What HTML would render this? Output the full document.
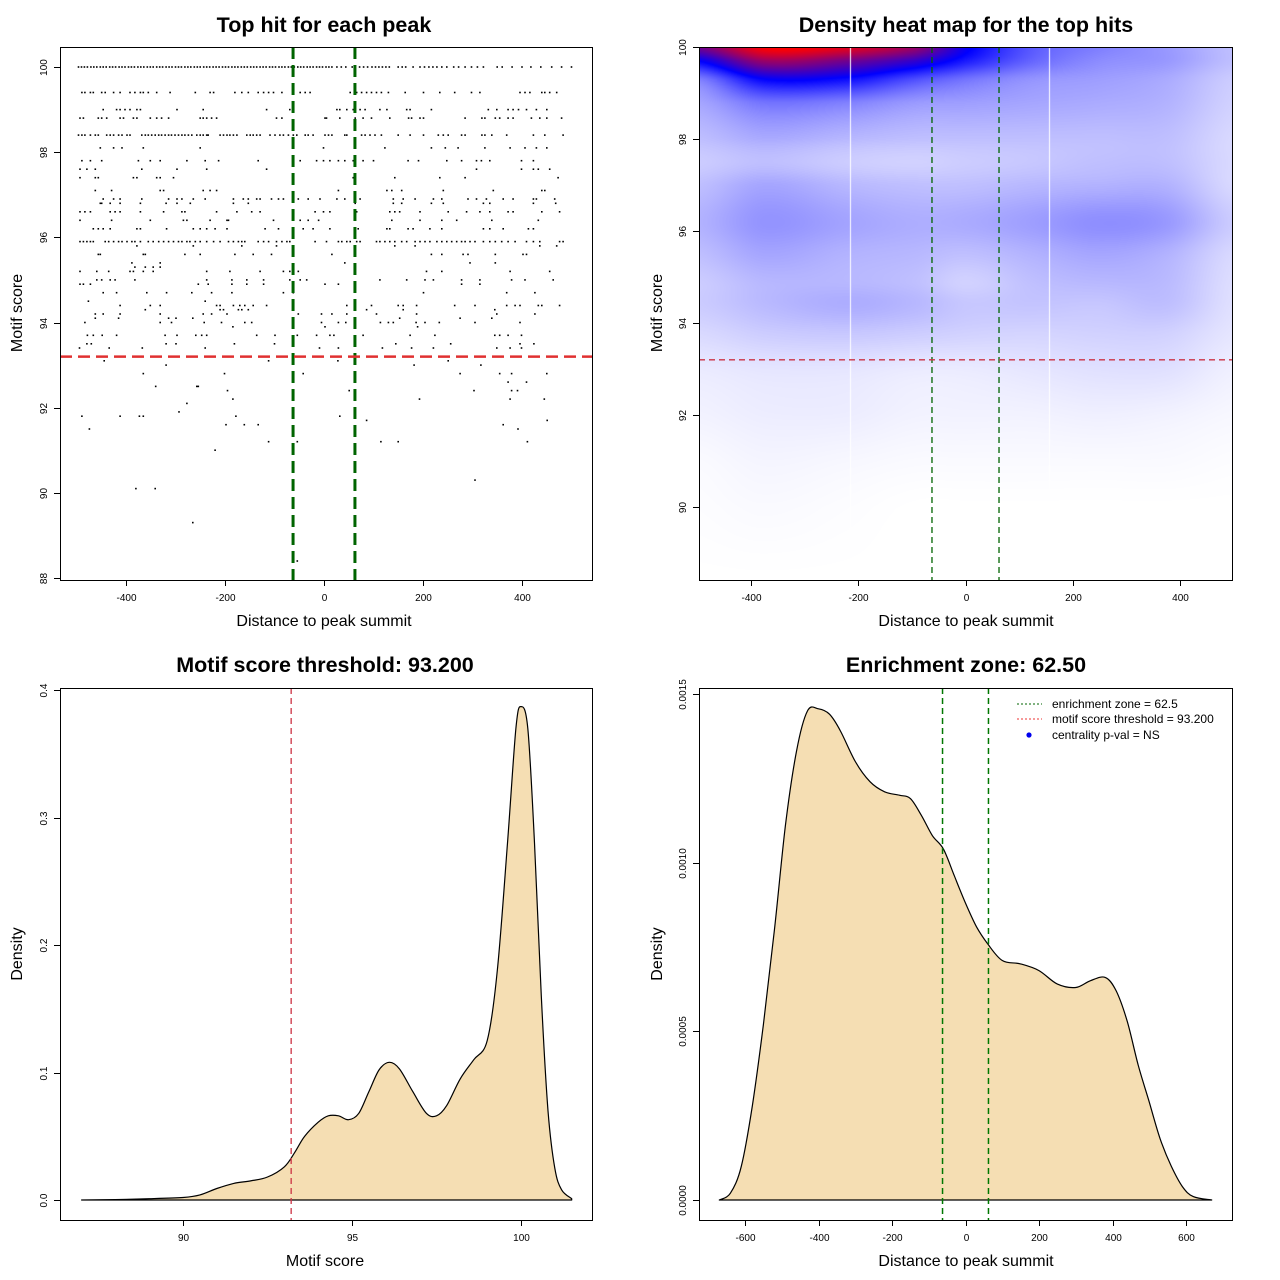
<!DOCTYPE html>
<html><head><meta charset="utf-8">
<style>
html,body{margin:0;padding:0;background:#fff;}
#wrap{position:relative;width:1280px;height:1280px;overflow:hidden;}
#heat{position:absolute;left:699px;top:47px;}
svg{position:absolute;left:0;top:0;}
text{font-family:"Liberation Sans",sans-serif;}
</style></head>
<body>
<div id="wrap">
<canvas id="heat" width="533" height="533"></canvas>
<svg id="svg" width="1280" height="1280" xmlns="http://www.w3.org/2000/svg"></svg>
</div>
<script>
// ---------- DATA ----------
const enrichZone = 62.5;
const scoreThreshold = 93.2;
const xTicksDist = [-400,-200,0,200,400];
const yTicksScatter = [88,90,92,94,96,98,100];
const yTicksHeat = [90,92,94,96,98,100];
const xTicksScore = [90,95,100];
const yTicksScoreDens = [0.0,0.1,0.2,0.3,0.4];
const yTicksScoreLabels = ["0.0","0.1","0.2","0.3","0.4"];
const xTicksDistDens = [-600,-400,-200,0,200,400,600];
const yTicksDistDens = [0,0.0005,0.0010,0.0015];
const yTicksDistLabels = ["0.0000","0.0005","0.0010","0.0015"];

const scatterScores = [100,99.4,99.0,98.8,98.4,98.1,97.8,97.6,97.4,97.1,96.9,96.8,96.6,96.4,96.2,95.9,95.8,95.6,95.4,95.3,95.2,95.0,94.9,94.7,94.5,94.4,94.3,94.2,94.1,94.0,93.9,93.7,93.5,93.4,93.1,93.0,92.8,92.6,92.5,92.4,92.2,92.1,91.9,91.8,91.7,91.6,91.5,91.2,91.0,90.3,90.1,89.3,88.4];
const scatterX = [
[-496,-490,-484,-478,-471,-465,-459,-452,-446,-440,-433,-427,-421,-414,-408,-402,-395,-389,-383,-376,-370,-364,-357,-351,-345,-338,-332,-326,-319,-313,-307,-300,-294,-288,-281,-275,-269,-262,-256,-250,-243,-237,-231,-224,-218,-212,-205,-199,-193,-186,-180,-174,-167,-161,-155,-148,-142,-136,-129,-123,-117,-110,-104,-98,-91,-85,-79,-72,-66,-60,-53,-47,-41,-34,-28,-22,-15,-9,-3,4,10,16,26,35,44,57,63,72,80,88,97,104,111,118,125,132,150,158,165,180,194,203,212,220,228,238,248,262,272,285,298,310,322,350,360,380,400,418,438,460,480,500],
[-489,-483,-472,-466,-449,-442,-425,-412,-392,-382,-371,-365,-355,-338,-311,-260,-230,-223,-180,-166,-153,-133,-122,-112,-102,-85,-62,-48,-38,-28,53,66,76,86,96,106,116,130,164,201,234,264,298,315,396,406,416,440,446,456,470],
[-446,-419,-412,-402,-392,-378,-371,-297,-244,-116,-69,26,32,46,59,73,83,113,127,167,174,217,332,349,372,382,393,409,429,450],
[-493,-486,-456,-449,-439,-412,-405,-385,-378,-351,-338,-328,-314,-250,-244,-237,-227,-217,-96,-85,2,5,32,63,79,96,133,171,177,194,201,285,319,325,346,355,372,382,419,436,450,480],
[-496,-489,-483,-472,-462,-456,-439,-432,-425,-415,-408,-398,-392,-368,-361,-355,-348,-341,-334,-328,-321,-314,-308,-301,-294,-287,-281,-274,-267,-257,-250,-244,-237,-234,-210,-203,-196,-190,-183,-176,-156,-149,-143,-136,-129,-109,-99,-89,-82,-72,-62,-55,-38,-32,-22,2,9,16,42,46,76,83,93,103,116,150,174,201,231,241,251,278,285,319,325,339,369,423,446,483],
[-452,-425,-408,-365,-250,-1,123,217,245,271,325,376,406,429,450],
[-489,-472,-449,-375,-351,-331,-277,-240,-213,-133,-48,-15,-1,12,29,42,59,79,100,170,191,248,278,308,318,335,399,423],
[-493,-479,-462,-368,-297,-237,-116,308,399,423,433,456],
[-493,-462,-456,-385,-378,-338,-331,-304,59,143,234,285,473],
[-462,-429,-331,-324,-244,-230,-217,29,127,137,157,241,342,440,446],
[-446,-425,-412,-368,-314,-297,-287,-264,-240,-183,-163,-153,-136,-129,-106,-92,-82,-52,-32,-8,26,42,73,140,160,184,221,238,291,308,328,362,382,423,429,466],
[-452,-449,-432,-412,-371,-319,-297,-270,-183,-153,63,140,157,217,241,322,335,423,468],
[-493,-483,-472,-432,-422,-412,-371,-324,-287,-281,-217,-176,-146,-129,-18,-1,12,66,133,143,153,194,251,288,315,335,372,382,440,476],
[-493,-429,-351,-284,-277,-230,-196,-193,-102,-48,-32,-11,137,194,238,268,339,433],
[-466,-456,-446,-432,-378,-371,-318,-264,-250,-237,-220,-196,-119,-92,-42,-22,12,69,127,133,170,180,214,238,322,335,362,413,423],
[-493,-486,-479,-472,-466,-442,-435,-425,-415,-408,-398,-388,-382,-371,-355,-345,-334,-324,-314,-304,-294,-287,-277,-271,-260,-250,-237,-223,-210,-193,-183,-173,-166,-160,-133,-122,-112,-96,-85,-75,-69,-18,5,29,36,46,53,66,73,106,113,123,133,143,157,167,184,194,204,214,228,238,248,258,268,278,285,295,305,322,335,346,359,372,386,409,423,436,476,483],
[-378,-264,-166,-96,143,184,436,470],
[-456,-452,-365,-361,-281,-250,-180,-143,-106,16,63,217,238,281,291,346,402,409],
[-388,-331,42,295,346],
[-382,-361,-345,-331],
[-493,-459,-435,-392,-385,-365,-345,-237,-190,-129,-82,-69,-52,207,238,376,456],
[-459,-449,-432,-422,-382,-237,-186,-156,-122,-69,-48,-35,113,167,204,221,278,315,379,406,463],
[-493,-486,-472,-254,-234,-186,-156,-122,2,29,278,315],
[-446,-419,-358,-318,-267,-227,-186,-82,-62,201,369,426],
[-476,-240],
[-412,-351,-331,-217,-210,-183,-170,-160,-143,-116,46,96,150,160,187,264,305,369,386,396,433,440,476],
[-361,-210,-203,-173,-166,-153,86,160,345],
[-462,-446,-412,-331,-244,-227,-196,-52,-5,16,46,106,187,349,426],
[-462,-415,-314,-299,-265,153,275,339],
[-483,-331,-308,-242,-207,-160,-146,-5,29,44,114,130,140,186,204,233,305,396],
[-184,2,189],
[-478,-466,-448,-419,-321,-297,-259,-247,-237,-136,-99,-54,-15,12,20,79,174,224,345,355,372,399],
[-479,-470,-319,-299,-181,-100,145,256,396,424],
[-494,-434,-367,-240,-9,29,118,177,221,349,376,399],
[-444,-112,28,251],
[-319,182,317],
[-365,-201,-42,275,355,379,450],
[372,409],
[-340,-257,-254],
[-195,51,303,379,391],
[-184,193,376,445],
[-277],
[-293],
[-489,-412,-373,-365,-178,32],
[86,451],
[-198,-161,-133,362],
[-474,392],
[-112,-54,115,150,411],
[-220],
[305],
[-380,-341],
[-265],
[-54]
];

// heatmap density grid (0 white, 1 blue, 2 red)
const heatX = [-500,-375,-220,-94,0,125,250,375,500];
const heatY = [100,99.7,99.3,98.8,98.0,97.5,97.0,96.2,95.5,94.9,94.4,93.8,93.0,92.0,91.0,90.0,88.4];
const heatV = [
[1.45,2.0,1.9,1.6,1.05,0.65,0.5,0.4,0.25],
[1.0,1.6,1.45,1.2,0.9,0.6,0.45,0.4,0.25],
[0.5,1.0,0.95,0.7,0.55,0.42,0.38,0.33,0.2],
[0.35,0.55,0.5,0.4,0.38,0.35,0.33,0.3,0.18],
[0.25,0.33,0.28,0.25,0.25,0.25,0.25,0.25,0.15],
[0.2,0.25,0.2,0.18,0.2,0.22,0.25,0.25,0.15],
[0.25,0.35,0.28,0.25,0.25,0.28,0.3,0.3,0.15],
[0.3,0.42,0.36,0.32,0.33,0.38,0.44,0.4,0.2],
[0.25,0.35,0.3,0.28,0.25,0.3,0.35,0.3,0.15],
[0.2,0.28,0.28,0.25,0.18,0.25,0.28,0.27,0.13],
[0.2,0.27,0.32,0.28,0.22,0.23,0.22,0.25,0.12],
[0.15,0.2,0.22,0.2,0.18,0.17,0.18,0.18,0.1],
[0.08,0.1,0.1,0.08,0.08,0.1,0.12,0.12,0.06],
[0.05,0.07,0.07,0.05,0.05,0.05,0.06,0.05,0.03],
[0.02,0.04,0.03,0.02,0.02,0.02,0.02,0.02,0.01],
[0.01,0.02,0.01,0,0,0,0,0,0],
[0,0,0,0,0,0,0,0,0]
];
const heatGapLines = [-215,155];

const scoreDensX = [87.0,88,89,90,90.5,91,91.5,92,92.5,93,93.3,93.6,94,94.3,94.6,94.9,95.2,95.5,95.8,96.1,96.4,96.8,97.2,97.5,97.8,98.2,98.6,99.0,99.3,99.6,99.85,100.0,100.2,100.4,100.6,100.8,101.0,101.2,101.5];
const scoreDensY = [0,0.0003,0.001,0.002,0.004,0.009,0.013,0.015,0.018,0.026,0.037,0.05,0.061,0.066,0.066,0.063,0.068,0.085,0.102,0.108,0.103,0.085,0.068,0.066,0.074,0.095,0.11,0.125,0.18,0.28,0.37,0.387,0.37,0.28,0.16,0.07,0.025,0.008,0.001];

const distDensX = [-670,-640,-610,-580,-550,-520,-490,-460,-430,-400,-370,-340,-300,-260,-220,-180,-150,-120,-90,-60,-30,0,30,60,100,150,200,250,300,340,380,410,440,470,500,530,560,590,620,670];
const distDensY = [0,0.00002,0.0001,0.00028,0.00052,0.0008,0.00111,0.00133,0.00145,0.001456,0.00144,0.00139,0.0013,0.00124,0.00121,0.0012,0.00119,0.00114,0.00108,0.00104,0.00096,0.00088,0.00081,0.00076,0.00071,0.0007,0.00068,0.00064,0.00063,0.00065,0.00066,0.00062,0.00053,0.0004,0.00029,0.00018,0.0001,0.00004,0.00001,0];

// ---------- HELPERS ----------
const NS = "http://www.w3.org/2000/svg";
const svg = document.getElementById('svg');
function mk(tag, attrs, parent){
  const e = document.createElementNS(NS, tag);
  for (const k in attrs) e.setAttribute(k, attrs[k]);
  (parent||svg).appendChild(e);
  return e;
}
function lin(d0,d1,p0,p1){ return v => p0 + (v-d0)*(p1-p0)/(d1-d0); }
function smoothPath(P){
  // Catmull-Rom through points P [[x,y],...]
  let d = `M${P[0][0].toFixed(1)},${P[0][1].toFixed(1)}`;
  for (let i=0;i<P.length-1;i++){
    const p0=P[Math.max(0,i-1)], p1=P[i], p2=P[i+1], p3=P[Math.min(P.length-1,i+2)];
    const c1=[p1[0]+(p2[0]-p0[0])/6, p1[1]+(p2[1]-p0[1])/6];
    const c2=[p2[0]-(p3[0]-p1[0])/6, p2[1]-(p3[1]-p1[1])/6];
    d += ` C${c1[0].toFixed(1)},${c1[1].toFixed(1)} ${c2[0].toFixed(1)},${c2[1].toFixed(1)} ${p2[0].toFixed(1)},${p2[1].toFixed(1)}`;
  }
  return d;
}

function frame(g, L, T, R, B){
  const b = mk('rect',{x:L+0.5,y:T+0.5,width:R-L,height:B-T,fill:'none',stroke:'#000','stroke-width':1},g);
  
  
}
function xAxis(g, ticks, labels, sx, B){
  const ax = mk('g',{},g);
  
  
  ticks.forEach((t,i)=>{
    const x = Math.round(sx(t))+0.5;
    mk('line',{x1:x,x2:x,y1:B,y2:B+6,stroke:'#000'},ax);
    const tx = mk('text',{x:x,y:B+21,'font-size':10,'text-anchor':'middle',fill:'#000'},ax);
    tx.textContent = labels[i];
    
    
  });
}
function yAxis(g, ticks, labels, sy, L){
  const ax = mk('g',{},g);
  
  
  ticks.forEach((t,i)=>{
    const y = Math.round(sy(t))+0.5;
    mk('line',{x1:L-6,x2:L,y1:y,y2:y,stroke:'#000'},ax);
    const tx = mk('text',{x:L-13,y:y,'font-size':10,'text-anchor':'middle',fill:'#000',transform:`rotate(-90 ${L-13} ${y})`},ax);
    tx.textContent = labels[i];
    
    
  });
}
function titles(g, title, cx, ty, xl, xly, yl, ylx, yly){
  const t = mk('text',{x:cx,y:ty,'font-size':21.5,'font-weight':'bold','text-anchor':'middle'},g);
  t.textContent = title;
  
  
  const a = mk('text',{x:cx,y:xly,'font-size':16,'text-anchor':'middle'},g);
  a.textContent = xl;
  
  
  const b = mk('text',{x:ylx,y:yly,'font-size':16,'text-anchor':'middle',transform:`rotate(-90 ${ylx} ${yly})`},g);
  b.textContent = yl;
  
  
}

// ---------- PANEL 1: scatter ----------
(function(){
  const g = mk('g',{});
  
  
  const L=60,T=47,R=592,B=580;
  const sx = lin(-400,400,126,522), sy = lin(100,88,67,578);
  const pts = mk('g',{fill:'#000'},g);
  
  
  scatterScores.forEach((s,i)=>{
    scatterX[i].forEach(d=>{
      const p = mk('rect',{x:(sx(d)-0.8).toFixed(1),y:(sy(s)-0.8).toFixed(1),width:1.6,height:1.6},pts);
      
      
    });
  });
  [-enrichZone, enrichZone].forEach(z=>{
    const l = mk('line',{x1:sx(z),x2:sx(z),y1:T,y2:B,stroke:'#006400','stroke-width':3,'stroke-dasharray':'12,6'},g);
    
    
  });
  const h = mk('line',{x1:L,x2:R,y1:sy(scoreThreshold),y2:sy(scoreThreshold),stroke:'#e03030','stroke-width':2.5,'stroke-dasharray':'12,6'},g);
  
  
  frame(g,L,T,R,B);
  xAxis(g,xTicksDist,xTicksDist.map(String),sx,B);
  yAxis(g,yTicksScatter,yTicksScatter.map(String),sy,L);
  titles(g,'Top hit for each peak',324,32,'Distance to peak summit',626,'Motif score',22,313);
})();

// ---------- PANEL 2: heatmap ----------
(function(){
  const L=699,T=47,R=1232,B=580;
  const sx = lin(-400,400,751,1180), sy = lin(100,90,47,507);
  const cv = document.getElementById('heat');
  const ctx = cv.getContext('2d');
  const W=533,H=533;
  const img = ctx.createImageData(W,H);
  function locate(arr, v){
    const asc = arr[0] < arr[arr.length-1];
    for (let i=0;i<arr.length-1;i++){
      const a=arr[i], b=arr[i+1];
      if ((asc && v>=a && v<=b) || (!asc && v<=a && v>=b)) return [i,(v-a)/(b-a)];
    }
    if (asc) return v<arr[0]?[0,0]:[arr.length-2,1];
    return v>arr[0]?[0,0]:[arr.length-2,1];
  }
  function cr(a,i,t){
    const n=a.length;
    const p0=a[Math.max(0,i-1)], p1=a[i], p2=a[Math.min(n-1,i+1)], p3=a[Math.min(n-1,i+2)];
    const t2=t*t, t3=t2*t;
    return 0.5*((2*p1)+(-p0+p2)*t+(2*p0-5*p1+4*p2-p3)*t2+(-p0+3*p1-3*p2+p3)*t3);
  }
  const xinv = lin(751,1180,-400,400), yinv = lin(47,507,100,90);
  const xl = [];
  for (let px=0;px<W;px++) xl.push(locate(heatX, xinv(L+px+0.5)));
  for (let py=0;py<H;py++){
    const [yi,yf] = locate(heatY, yinv(T+py+0.5));
    for (let px=0;px<W;px++){
      const [xi,xf] = xl[px];
      const col=[];
      for (let r=0;r<heatY.length;r++) col.push(cr(heatV[r],xi,xf));
      let v = Math.max(0,Math.min(2,cr(col,yi,yf)));
      let r,gg,b;
      if (v<=1){ r=gg=255*(1-v); b=255; } else { const t=v-1; r=255*t; gg=0; b=255*(1-t); }
      const k=(py*W+px)*4;
      img.data[k]=r; img.data[k+1]=gg; img.data[k+2]=b; img.data[k+3]=255;
    }
  }
  ctx.putImageData(img,0,0);
  ctx.fillStyle='#fff';
  heatGapLines.forEach(d=>{ ctx.fillRect(Math.round(sx(d))-L,0,1,H); });

  const g = mk('g',{});
  
  
  [-enrichZone, enrichZone].forEach(z=>{
    const l = mk('line',{x1:sx(z),x2:sx(z),y1:T,y2:B,stroke:'#006400','stroke-width':1.3,'stroke-dasharray':'6,4'},g);
    
    
  });
  const h = mk('line',{x1:L,x2:R,y1:sy(scoreThreshold),y2:sy(scoreThreshold),stroke:'#cc3344','stroke-width':1.3,'stroke-dasharray':'6,4'},g);
  
  
  frame(g,L,T,R,B);
  xAxis(g,xTicksDist,xTicksDist.map(String),sx,B);
  yAxis(g,yTicksHeat,yTicksHeat.map(String),sy,L);
  titles(g,'Density heat map for the top hits',966,32,'Distance to peak summit',626,'Motif score',662,313);
})();

// ---------- PANEL 3: score density ----------
(function(){
  const g = mk('g',{});
  
  
  const L=60,T=688,R=592,B=1220;
  const sx = lin(90,100,183,521), sy = lin(0,0.4,1200,690);
  const P = scoreDensX.map((x,i)=>[sx(x), sy(scoreDensY[i])]);
  let d = `M${sx(scoreDensX[0])},${sy(0)} L` + smoothPath(P).slice(1) + ` L${sx(scoreDensX[scoreDensX.length-1])},${sy(0)} Z`;
  const p = mk('path',{d:d,fill:'#f5deb3',stroke:'#000','stroke-width':1.2,'stroke-linejoin':'round'},g);
  
  
  const v = mk('line',{x1:sx(scoreThreshold),x2:sx(scoreThreshold),y1:T,y2:B,stroke:'#cc3344','stroke-width':1.3,'stroke-dasharray':'6,4'},g);
  
  
  frame(g,L,T,R,B);
  xAxis(g,xTicksScore,xTicksScore.map(String),sx,B);
  yAxis(g,yTicksScoreDens,yTicksScoreLabels,sy,L);
  titles(g,'Motif score threshold: 93.200',325,672,'Motif score',1266,'Density',22,954);
})();

// ---------- PANEL 4: distance density ----------
(function(){
  const g = mk('g',{});
  
  
  const L=699,T=688,R=1232,B=1220;
  const sx = lin(-600,600,745,1186), sy = lin(0,0.0015,1200,694);
  const P = distDensX.map((x,i)=>[sx(x), sy(distDensY[i])]);
  const d = smoothPath(P) + ' Z';
  const p = mk('path',{d:d,fill:'#f5deb3',stroke:'#000','stroke-width':1.2,'stroke-linejoin':'round'},g);
  
  
  [-enrichZone, enrichZone].forEach(z=>{
    const l = mk('line',{x1:sx(z),x2:sx(z),y1:T,y2:B,stroke:'#007700','stroke-width':1.5,'stroke-dasharray':'6,4'},g);
    
    
  });
  frame(g,L,T,R,B);
  xAxis(g,xTicksDistDens,xTicksDistDens.map(String),sx,B);
  yAxis(g,yTicksDistDens,yTicksDistLabels,sy,L);
  titles(g,'Enrichment zone: 62.50',966,672,'Distance to peak summit',1266,'Density',662,954);
  const lg = mk('g',{},g);
  
  
  const e1 = mk('line',{x1:1017,x2:1042,y1:704,y2:704,stroke:'#006400','stroke-dasharray':'2,2'},lg);
  
  
  const e2 = mk('line',{x1:1017,x2:1042,y1:719,y2:719,stroke:'#ee3333','stroke-dasharray':'2,2'},lg);
  
  
  const e3 = mk('circle',{cx:1029,cy:735,r:2.6,fill:'#0000ee'},lg);
  
  
  [['enrichment zone = 62.5',708],['motif score threshold = 93.200',723],['centrality p-val = NS',739]].forEach(([s,y])=>{
    const t = mk('text',{x:1052,y:y,'font-size':12},lg);
    t.textContent = s;
    
    
  });
})();
</script>
</body></html>
